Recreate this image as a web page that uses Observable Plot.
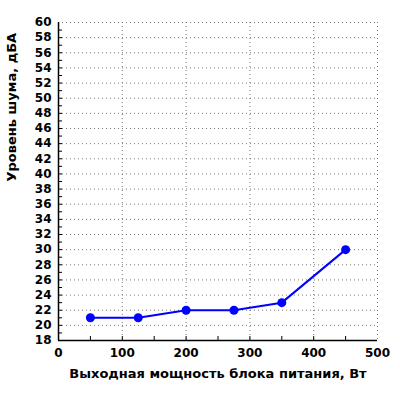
<!DOCTYPE html>
<html><head><meta charset="utf-8">
<script src="https://cdn.jsdelivr.net/npm/d3@7"></script>
<script src="https://cdn.jsdelivr.net/npm/@observablehq/plot@0.6"></script>
<style>
html,body{margin:0;padding:0;background:#fff;}
svg{font-family:"DejaVu Sans",Verdana,sans-serif;}
</style></head>
<body><div id="chart"></div>
<script>
const power = [50, 125, 200, 275, 350, 450];
const noise = [21, 21, 22, 22, 23, 30];
const xTicks = [0, 100, 200, 300, 400, 500];
const xMinorTicks = [50, 100, 150, 200, 250, 300, 350, 400, 450];
const yTicks = d3.range(18, 61, 2);
const yMinorTicks = d3.range(19, 60, 1);
const xGrid = [100, 200, 300, 400, 500];
const yGrid = d3.range(20, 61, 2);
const xLabel = "Выходная мощность блока питания, Вт";
const yLabel = "Уровень шума, дБА";

const data = power.map((p, i) => ({power: p, noise: noise[i]}));

const W = 400, H = 400, mL = 58, mR = 23, mT = 22, mB = 60;
const fw = W - mL - mR, fh = H - mT - mB;

const chart = Plot.plot({
  width: W, height: H,
  marginLeft: mL, marginRight: mR, marginTop: mT, marginBottom: mB,
  style: {fontFamily: "DejaVu Sans", fontSize: "12px", fontWeight: "bold", color: "#000", background: "#fff"},
  x: {domain: [0, 500]},
  y: {domain: [18, 60]},
  marks: [
    Plot.ruleX(xGrid, {stroke: "#777", strokeDasharray: "1,3", strokeWidth: 1}),
    Plot.ruleY(yGrid, {stroke: "#777", strokeDasharray: "1,3", strokeWidth: 1}),
    Plot.tickX(xMinorTicks, {x: d => d, insetTop: fh - 4, stroke: "#000"}),
    Plot.tickY(yMinorTicks, {y: d => d, insetRight: fw - 4, stroke: "#000"}),
    Plot.axisX({ticks: xTicks, tickSize: 0, tickPadding: 8, label: null, fontWeight: "bold", fontSize: 12}),
    Plot.axisY({ticks: yTicks, tickSize: 0, tickPadding: 7, label: null, fontWeight: "bold", fontSize: 12}),
    Plot.ruleX([0], {stroke: "#000", strokeWidth: 1.5}),
    Plot.ruleY([18], {stroke: "#000", strokeWidth: 1.5}),
    Plot.line(data, {x: "power", y: "noise", stroke: "#0000ff", strokeWidth: 2}),
    Plot.dot(data, {x: "power", y: "noise", fill: "#0000ff", r: 4.5}),
    Plot.text([xLabel], {frameAnchor: "bottom", dy: 37, text: d => d, fontWeight: "bold", fontSize: 13}),
    Plot.text([yLabel], {frameAnchor: "left", dx: -47, rotate: -90, text: d => d, fontWeight: "bold", fontSize: 13})
  ]
});
document.getElementById("chart").appendChild(chart);
</script>
</body></html>
